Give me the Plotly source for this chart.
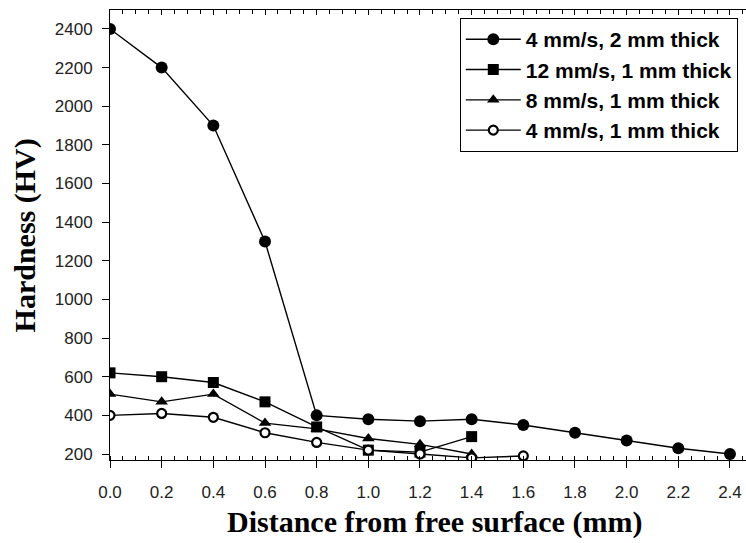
import plotly.graph_objects as go

# ---- data ----
dist_a = [0.0, 0.2, 0.4, 0.6, 0.8, 1.0, 1.2, 1.4, 1.6, 1.8, 2.0, 2.2, 2.4]
hv_4_2 = [2400, 2200, 1900, 1300, 400, 380, 370, 380, 350, 310, 270, 230, 200]

dist_b = [0.0, 0.2, 0.4, 0.6, 0.8, 1.0, 1.2, 1.4]
hv_12_1 = [620, 600, 570, 470, 340, 220, 210, 290]
hv_8_1 = [510, 470, 510, 360, 330, 280, 250, 200]

dist_c = [0.0, 0.2, 0.4, 0.6, 0.8, 1.0, 1.2, 1.4, 1.6]
hv_4_1 = [400, 410, 390, 310, 260, 220, 200, 180, 190]

names = ["4 mm/s, 2 mm thick", "12 mm/s, 1 mm thick", "8 mm/s, 1 mm thick", "4 mm/s, 1 mm thick"]
x_ticks = [0.0, 0.2, 0.4, 0.6, 0.8, 1.0, 1.2, 1.4, 1.6, 1.8, 2.0, 2.2, 2.4]
y_ticks = [200, 400, 600, 800, 1000, 1200, 1400, 1600, 1800, 2000, 2200, 2400]

LINE = dict(color="black", width=1.4)
fig = go.Figure()
fig.add_trace(go.Scatter(x=dist_a, y=hv_4_2, name=names[0], mode="lines+markers", line=LINE,
                         marker=dict(symbol="circle", size=12, color="black")))
fig.add_trace(go.Scatter(x=dist_b, y=hv_12_1, name=names[1], mode="lines+markers", line=LINE,
                         marker=dict(symbol="square", size=11, color="black")))
fig.add_trace(go.Scatter(x=dist_b, y=hv_8_1, name=names[2], mode="lines+markers", line=LINE,
                         marker=dict(symbol="triangle-up", size=11, color="black")))
fig.add_trace(go.Scatter(x=dist_c, y=hv_4_1, name=names[3], mode="lines+markers", line=LINE,
                         marker=dict(symbol="circle", size=9, color="white",
                                     line=dict(color="black", width=2.2))))
# invisible trace to carry the top axis
fig.add_trace(go.Scatter(x=[0, 2.4], y=[None, None], xaxis="x2", showlegend=False,
                         hoverinfo="skip", mode="lines"))

tickfont = dict(family="Arial, Liberation Sans, sans-serif", size=17, color="#222")
xr = [0, 2.462]
fig.update_layout(
    width=746, height=543,
    margin=dict(l=110, r=0, t=10, b=83),
    paper_bgcolor="white", plot_bgcolor="white",
    showlegend=True,
    xaxis=dict(range=xr, tickvals=x_ticks, ticktext=[f"{v:.1f}" for v in x_ticks],
               automargin=False,
               showline=True, linecolor="black", linewidth=1, showgrid=False, zeroline=False,
               ticks="outside", ticklen=7, tickcolor="black", tickfont=tickfont,
               ticklabelstandoff=10,
               minor=dict(dtick=0.05, tick0=0, ticks="inside", ticklen=4, tickcolor="black",
                          showgrid=False)),
    xaxis2=dict(range=xr, overlaying="x", side="top", showticklabels=False,
                tickvals=x_ticks, automargin=False,
                showline=True, linecolor="black", linewidth=1, showgrid=False, zeroline=False,
                ticks="inside", ticklen=5, tickcolor="black",
                minor=dict(dtick=0.05, tick0=0, ticks="inside", ticklen=4, tickcolor="black",
                           showgrid=False)),
    yaxis=dict(range=[169, 2498], tickvals=y_ticks, showline=True, linecolor="black", linewidth=1,
               automargin=False,
               showgrid=False, zeroline=False, ticks="outside", ticklen=7, tickcolor="black",
               tickfont=tickfont, ticklabelstandoff=6),
    legend=dict(x=0.55, y=0.982, xanchor="left", yanchor="top",
                bordercolor="black", borderwidth=1, bgcolor="white",
                font=dict(family="Arial, Liberation Sans, sans-serif", size=21, color="black",
                          weight="bold"),
                itemwidth=55,
                tracegroupgap=0),
    annotations=[
        dict(text="<b>Hardness (HV)</b>", xref="paper", yref="paper", x=-0.133, y=0.5,
             xanchor="center", yanchor="middle", textangle=-90, showarrow=False,
             font=dict(family="Times New Roman, Liberation Serif, serif", size=30, color="black")),
        dict(text="<b>Distance from free surface (mm)</b>", xref="paper", yref="paper",
             x=0.511, y=-0.138, xanchor="center", yanchor="middle", showarrow=False,
             font=dict(family="Times New Roman, Liberation Serif, serif", size=30, color="black")),
    ],
)

# remove the page's default body margin so the figure fills the window exactly
fig.write_html("out.html",
               config={"displayModeBar": False},
               post_script="document.body.style.margin='0';document.body.style.overflow='hidden';")
